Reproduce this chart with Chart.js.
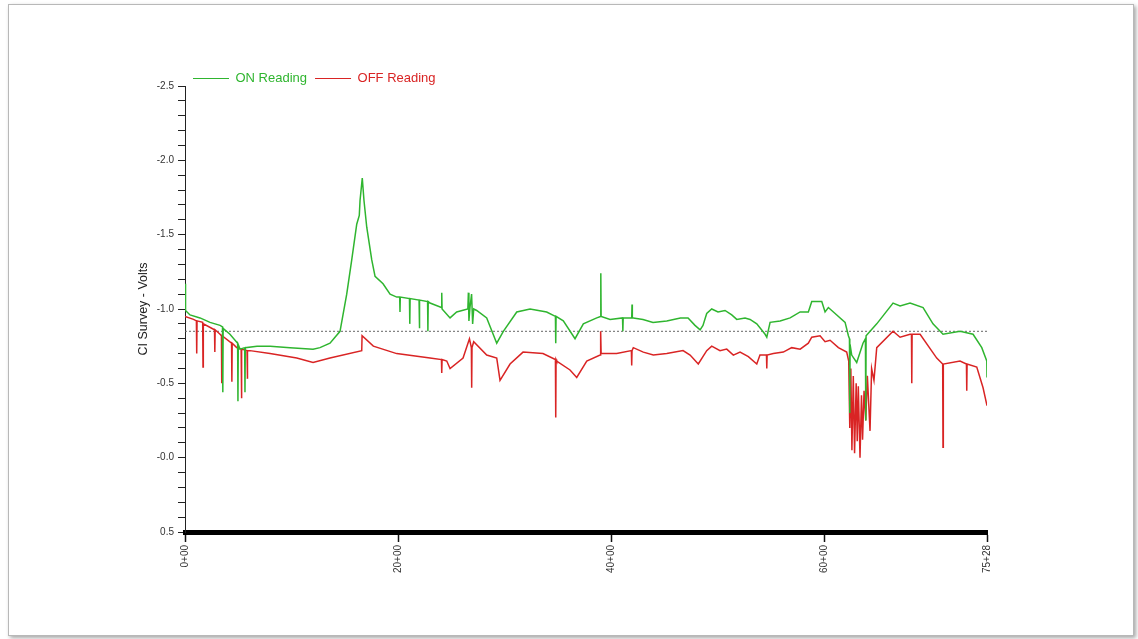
<!DOCTYPE html>
<html>
<head>
<meta charset="utf-8">
<script src="https://cdn.jsdelivr.net/npm/chart.js@4/dist/chart.umd.min.js"></script>
<style>
  html, body { margin: 0; padding: 0; background: #fff; }
  #wrap { position: relative; width: 1138px; height: 639px; overflow: hidden; }
  #frame {
    position: absolute; left: 8px; top: 4px; width: 1124px; height: 630px;
    border: 1px solid #b8b8b8; box-shadow: 2px 2px 4px rgba(0,0,0,0.35);
  }
  #cisChart { position: absolute; left: 0; top: 0; }
</style>
</head>
<body>
<div id="wrap">
  <div id="frame"></div>
  <canvas id="cisChart" width="1138" height="639"></canvas>
</div>
<script>
// stations in hundreds of feet (75.28 = 75+28), readings in volts
const stationTicks = [0, 20, 40, 60, 75.28];
const voltMin = -2.5;
const voltMax = 0.5;
const criterionVolts = -0.85;

// ON Reading - [station, volts]
const onReading = [
  [0, -1.17], [0.05, -0.99], [0.47, -0.96], [1.41, -0.94], [2.35, -0.91], [3.29, -0.89],
  [3.52, -0.88], [3.55, -0.44], [3.58, -0.87], [4.22, -0.83],
  [4.94, -0.77], [4.97, -0.38], [5.0, -0.76], [5.16, -0.73],
  [5.6, -0.74], [5.63, -0.44], [5.66, -0.74], [6.76, -0.75], [8.0, -0.75], [9.86, -0.74],
  [12.02, -0.73], [12.67, -0.74], [13.61, -0.77], [14.55, -0.85], [15.18, -1.10],
  [15.65, -1.33], [16.12, -1.57], [16.36, -1.63], [16.43, -1.73], [16.64, -1.88],
  [16.8, -1.73], [17.06, -1.55], [17.53, -1.33], [17.84, -1.22], [18.59, -1.17],
  [19.25, -1.10], [19.88, -1.08], [20.15, -1.08], [20.18, -0.98], [20.21, -1.08],
  [21.07, -1.07], [21.1, -0.90], [21.13, -1.07], [21.97, -1.06], [22.0, -0.87], [22.03, -1.06],
  [22.77, -1.05], [22.8, -0.85], [22.83, -1.05], [23.0, -1.04], [24.07, -1.01], [24.1, -1.11],
  [24.13, -1.0], [24.88, -0.94], [25.5, -0.98], [26.55, -1.0], [26.6, -1.11], [26.65, -0.92],
  [26.75, -1.01], [26.9, -1.10], [27.0, -0.90], [27.1, -1.0], [27.38, -0.99], [28.32, -0.94],
  [29.26, -0.77], [29.88, -0.85], [31.14, -0.98], [32.39, -1.00], [33.95, -0.98],
  [34.77, -0.95], [34.8, -0.77], [34.83, -0.95], [35.51, -0.92], [36.61, -0.80],
  [37.39, -0.90], [38.65, -0.94], [39.0, -0.95], [39.03, -1.24], [39.06, -0.95],
  [39.9, -0.93], [41.07, -0.94], [41.1, -0.85], [41.13, -0.94], [41.93, -0.94], [41.96, -1.03],
  [41.99, -0.94], [42.08, -0.94], [42.99, -0.93], [43.93, -0.91], [45.22, -0.92], [46.5, -0.94],
  [47.22, -0.94], [47.87, -0.89], [48.35, -0.86], [48.62, -0.89], [48.97, -0.97], [49.44, -1.00],
  [50.03, -0.98], [50.69, -0.99], [51.32, -0.96], [51.79, -0.93], [52.57, -0.94], [53.04, -0.93],
  [53.67, -0.90], [54.45, -0.83], [54.61, -0.81], [54.92, -0.91], [55.86, -0.92], [56.8, -0.94],
  [57.74, -0.98], [58.51, -0.98], [58.83, -1.05], [59.77, -1.05], [60.08, -0.98], [60.39, -1.01],
  [61.18, -0.96], [61.96, -0.91], [62.27, -0.82], [62.37, -0.80], [62.4, -0.30], [62.43, -0.76],
  [62.58, -0.69], [63.05, -0.64], [63.64, -0.77], [63.87, -0.80], [63.9, -0.25], [63.93, -0.82],
  [64.93, -0.90], [66.46, -1.04], [67.12, -1.02], [68.06, -1.04], [69.28, -1.01],
  [70.21, -0.90], [71.15, -0.83], [72.75, -0.85], [73.97, -0.83], [74.79, -0.74],
  [75.26, -0.65], [75.28, -0.54]
];

// OFF Reading - [station, volts]
const offReading = [
  [0, -0.95], [0.8, -0.93], [1.07, -0.92], [1.1, -0.70], [1.13, -0.92], [1.66, -0.91],
  [1.69, -0.61], [1.72, -0.90], [2.77, -0.86], [2.8, -0.71], [2.83, -0.86], [3.29, -0.83],
  [3.42, -0.82], [3.45, -0.50], [3.48, -0.82], [4.37, -0.77], [4.4, -0.51], [4.43, -0.77],
  [4.85, -0.74], [5.27, -0.73], [5.3, -0.40], [5.33, -0.73], [5.82, -0.72], [5.85, -0.53],
  [5.88, -0.72], [6.1, -0.72], [7.98, -0.70], [10.49, -0.67], [12.02, -0.64], [13.61, -0.67],
  [16.59, -0.72], [16.62, -0.82], [17.68, -0.75], [19.87, -0.70], [23.0, -0.67],
  [24.07, -0.66], [24.1, -0.57], [24.13, -0.66], [24.57, -0.65], [24.88, -0.60], [26.1, -0.67],
  [26.7, -0.80], [26.88, -0.74], [26.91, -0.47], [26.94, -0.74], [27.1, -0.78], [28.32, -0.69],
  [29.26, -0.67], [29.57, -0.52], [30.51, -0.63], [31.73, -0.71], [33.6, -0.70],
  [34.77, -0.66], [34.8, -0.27], [34.83, -0.66], [34.89, -0.65], [36.14, -0.59], [36.77, -0.54],
  [37.71, -0.65], [38.96, -0.69], [39.0, -0.69], [39.03, -0.85], [39.06, -0.70], [40.52, -0.70],
  [41.9, -0.72], [41.93, -0.62], [41.96, -0.72], [42.08, -0.74], [43.02, -0.71], [43.96, -0.69],
  [45.22, -0.70], [46.75, -0.72], [47.41, -0.69], [48.18, -0.63], [48.97, -0.72], [49.44, -0.75],
  [50.22, -0.72], [50.85, -0.73], [51.47, -0.69], [52.1, -0.71], [52.88, -0.68], [53.67, -0.63],
  [53.97, -0.69], [54.58, -0.69], [54.61, -0.60], [54.64, -0.69], [55.22, -0.70], [56.16, -0.71],
  [56.95, -0.74], [57.74, -0.73], [58.51, -0.77], [58.83, -0.81], [59.61, -0.82], [60.08, -0.78],
  [60.55, -0.79], [61.33, -0.74], [62.11, -0.71], [62.3, -0.65],
  [62.4, -0.20], [62.5, -0.60], [62.6, -0.05], [62.73, -0.55],
  [62.85, -0.03], [63.0, -0.50], [63.1, -0.11], [63.2, -0.48], [63.36, 0.0], [63.5, -0.42],
  [63.6, -0.12], [63.74, -0.45], [63.9, -0.25], [64.05, -0.55], [64.3, -0.18], [64.45, -0.60],
  [64.67, -0.52], [64.93, -0.74], [66.46, -0.85], [67.12, -0.81], [68.06, -0.83],
  [68.19, -0.83], [68.22, -0.50], [68.25, -0.83], [69.0, -0.83], [70.56, -0.67],
  [71.12, -0.63], [71.15, -0.07], [71.18, -0.63], [72.75, -0.65], [73.35, -0.63],
  [73.38, -0.45], [73.41, -0.63], [74.32, -0.61], [74.91, -0.47], [75.28, -0.35]
];

function stationLabel(s) {
  const hundreds = Math.floor(s + 1e-6);
  const feet = Math.round((s - hundreds) * 100);
  return hundreds + "+" + String(feet).padStart(2, "0");
}

const ctx = document.getElementById("cisChart").getContext("2d");
new Chart(ctx, {
  type: "line",
  data: {
    datasets: [
      {
        label: "ON Reading",
        data: onReading.map(p => ({ x: p[0], y: p[1] })),
        borderColor: "#2fb52f",
        backgroundColor: "#2fb52f",
        borderWidth: 1.5,
        pointRadius: 0,
        fill: false,
        tension: 0
      },
      {
        label: "OFF Reading",
        data: offReading.map(p => ({ x: p[0], y: p[1] })),
        borderColor: "#d92424",
        backgroundColor: "#d92424",
        borderWidth: 1.5,
        pointRadius: 0,
        fill: false,
        tension: 0
      },
      {
        label: "criterion",
        data: [{ x: 0, y: criterionVolts }, { x: stationTicks[stationTicks.length - 1], y: criterionVolts }],
        borderColor: "#666",
        borderWidth: 1,
        borderDash: [2, 2],
        pointRadius: 0,
        fill: false
      }
    ]
  },
  options: {
    responsive: false,
    animation: false,
    devicePixelRatio: 1,
    layout: { padding: { left: 136, right: 151, top: 64, bottom: 62 } },
    plugins: {
      tooltip: { enabled: false },
      legend: {
        display: true,
        position: "top",
        align: "start",
        fullSize: false,
        maxHeight: 22,
        labels: {
          usePointStyle: true,
          pointStyle: "line",
          pointStyleWidth: 36,
          padding: 8,
          font: { family: "Liberation Sans", size: 13 },
          filter: item => item.text !== "criterion",
          generateLabels: chart => {
            const items = Chart.defaults.plugins.legend.labels.generateLabels(chart);
            items.forEach(item => {
              const ds = chart.data.datasets[item.datasetIndex];
              item.fontColor = ds.borderColor;
              item.strokeStyle = ds.borderColor;
              item.lineWidth = 1;
            });
            return items;
          }
        }
      }
    },
    scales: {
      x: {
        type: "linear",
        min: 0,
        max: stationTicks[stationTicks.length - 1],
        afterBuildTicks: axis => { axis.ticks = stationTicks.map(v => ({ value: v })); },
        afterFit: axis => { axis.height = 45; },
        ticks: {
          autoSkip: false,
          maxRotation: 90,
          minRotation: 90,
          padding: 3,
          color: "#333",
          font: { family: "Liberation Sans", size: 10 },
          callback: v => stationLabel(v)
        },
        grid: { drawOnChartArea: false, tickLength: 10, tickWidth: 1.5, tickColor: "#111" },
        border: { display: true, color: "#000", width: 5 }
      },
      y: {
        type: "linear",
        reverse: true,
        min: voltMin,
        max: voltMax,
        afterBuildTicks: axis => {
          const t = [];
          for (let i = Math.round(voltMin * 10); i <= Math.round(voltMax * 10); i++) t.push({ value: i / 10 });
          axis.ticks = t;
        },
        afterFit: axis => { axis.width = 49; },
        ticks: {
          autoSkip: false,
          padding: 4,
          color: "#333",
          font: { family: "Liberation Sans", size: 10 },
          callback: v => {
            const t = Math.round(v * 10);
            if (t % 5 !== 0) return "";
            return t === 0 ? "-0.0" : (t / 10).toFixed(1);
          }
        },
        title: {
          display: true,
          text: "CI Survey - Volts",
          color: "#222",
          padding: 0,
          font: { family: "Liberation Sans", size: 12.5 }
        },
        grid: { drawOnChartArea: false, tickLength: 7, tickWidth: 1, tickColor: "#222" },
        border: { display: true, color: "#222", width: 1 }
      }
    }
  }
});
</script>
</body>
</html>
